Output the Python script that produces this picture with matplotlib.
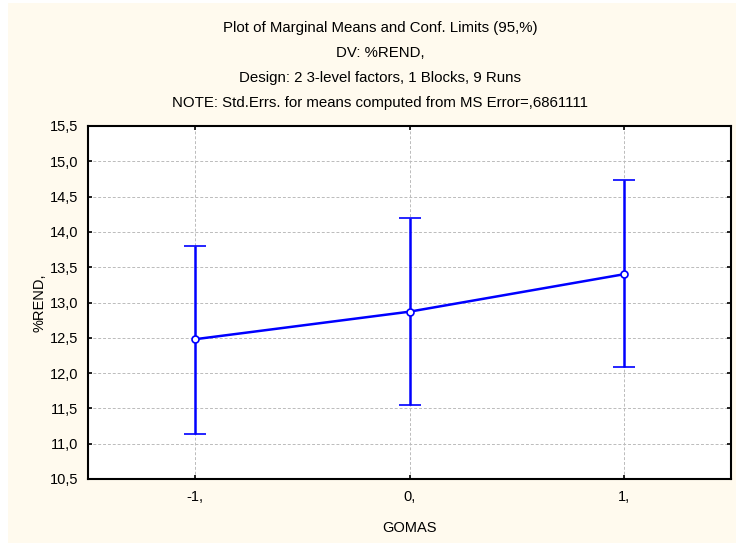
import matplotlib
matplotlib.use("Agg")
import matplotlib.pyplot as plt
from matplotlib.patches import Rectangle
from matplotlib.ticker import FuncFormatter, MultipleLocator

plt.rcParams['font.family'] = ['Liberation Sans', 'DejaVu Sans']

levels = [-1, 0, 1]
level_labels = ["-1,", "0,", "1,"]
means = [12.48, 12.87, 13.40]
upper = [13.80, 14.19, 14.73]
lower = [11.14, 11.55, 12.08]

title_lines = [
    "Plot of Marginal Means and Conf. Limits (95,%)",
    "DV: %REND,",
    "Design: 2 3-level factors, 1 Blocks, 9 Runs",
    "NOTE: Std.Errs. for means computed from MS Error=,6861111",
]

W, H = 736, 543
fig = plt.figure(figsize=(W / 100, H / 100), dpi=100)
fig.patch.set_facecolor('white')
fig.patches.append(Rectangle((8 / W, 0), 1 - 8 / W, 1 - 3 / H, transform=fig.transFigure,
                             facecolor='#FFFAEE', edgecolor='none', zorder=-10))

ax = fig.add_axes([88 / W, 1 - 479 / H, (731 - 88) / W, (479 - 126) / H])
ax.set_zorder(5)
ax.set_facecolor('white')

yerr_low = [m - l for m, l in zip(means, lower)]
yerr_up = [u - m for m, u in zip(means, upper)]
ax.errorbar(levels, means, yerr=[yerr_low, yerr_up], color='#0000FF', lw=1.8,
            capsize=8, capthick=1.8, elinewidth=1.8, marker='o', ms=5,
            mfc='white', mec='#0000FF', mew=1.2, zorder=3)

ax.set_xlim(-1.5, 1.5)
ax.set_ylim(10.5, 15.5)
ax.set_xticks(levels)
ax.set_xticklabels(level_labels)
ax.yaxis.set_major_locator(MultipleLocator(0.5))
ax.yaxis.set_major_formatter(FuncFormatter(lambda v, p: f"{v:.1f}".replace('.', ',')))
ax.grid(True, color='#BBBBBB', ls=(0, (3, 2)), lw=0.7)
ax.set_axisbelow(True)
ax.tick_params(direction='in', length=3, width=1.2, labelsize=10.5, colors='black',
               top=True, right=True, pad=7)
ax.tick_params(axis='x', pad=8)
for s in ax.spines.values():
    s.set_linewidth(1.5)
    s.set_color('black')

ax.set_xlabel("GOMAS", fontsize=10.5, labelpad=12)
ax.set_ylabel("%REND,", fontsize=10.5, labelpad=2)

ys = [28, 53, 78, 103]
for t, y in zip(title_lines, ys):
    fig.text(380 / W, 1 - y / H, t, ha='center', va='center', fontsize=10.8)

fig.savefig("out.png", dpi=100, facecolor=fig.get_facecolor())
